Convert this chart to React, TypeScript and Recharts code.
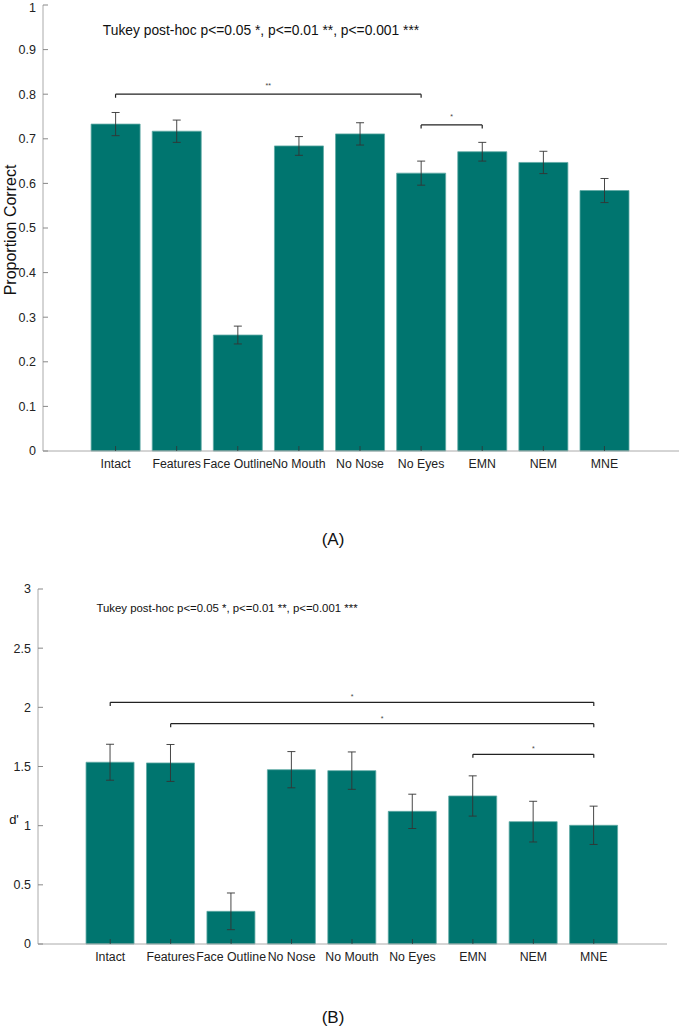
import React from "react"
import { BarChart, Bar, XAxis, YAxis, ErrorBar, ReferenceLine } from "recharts"

// Panel A: proportion correct
const topCategories = ["Intact", "Features", "Face Outline", "No Mouth", "No Nose", "No Eyes", "EMN", "NEM", "MNE"]
const topMeans = [0.733, 0.717, 0.26, 0.684, 0.711, 0.623, 0.671, 0.647, 0.584]
const topErrors = [0.026, 0.025, 0.02, 0.021, 0.025, 0.027, 0.021, 0.025, 0.027]
const topTicks = [0, 0.1, 0.2, 0.3, 0.4, 0.5, 0.6, 0.7, 0.8, 0.9, 1]
const topBrackets = [
  { from: "Intact", to: "No Eyes", y: 0.8, drop: 0.008, stars: "**" },
  { from: "No Eyes", to: "EMN", y: 0.731, drop: 0.008, stars: "*" },
]

// Panel B: d'
const bottomCategories = ["Intact", "Features", "Face Outline", "No Nose", "No Mouth", "No Eyes", "EMN", "NEM", "MNE"]
const bottomMeans = [1.536, 1.53, 0.276, 1.473, 1.465, 1.121, 1.251, 1.034, 1.003]
const bottomErrors = [0.152, 0.156, 0.155, 0.153, 0.158, 0.145, 0.17, 0.172, 0.162]
const bottomTicks = [0, 0.5, 1, 1.5, 2, 2.5, 3]
const bottomBrackets = [
  { from: "Intact", to: "MNE", y: 2.042, drop: 0.03, stars: "*" },
  { from: "Features", to: "MNE", y: 1.862, drop: 0.03, stars: "*" },
  { from: "EMN", to: "MNE", y: 1.603, drop: 0.03, stars: "*" },
]

const TEAL = "#00756f"
const FONT = "'Liberation Sans', Arial, Helvetica, sans-serif"

function XTick(props: any) {
  const { x, y, payload } = props
  return (
    <g>
      <line x1={x} x2={x} y1={y} y2={y - 5} stroke="#333" strokeWidth={0.8} />
      <text x={x} y={y + 17} textAnchor="middle" fontSize={12.3} fill="#222" fontFamily={FONT}>
        {payload.value}
      </text>
    </g>
  )
}

function brackets(list: typeof topBrackets, starOffset: number) {
  const out: React.ReactNode[] = []
  list.forEach((b, i) => {
    out.push(
      <ReferenceLine
        key={"h" + i}
        segment={[{ x: b.from, y: b.y }, { x: b.to, y: b.y }]}
        stroke="#222"
        strokeWidth={1.2}
        label={{ value: b.stars, position: "top", offset: starOffset, fontSize: 7, fill: "#444" }}
      />,
      <ReferenceLine
        key={"l" + i}
        segment={[{ x: b.from, y: b.y }, { x: b.from, y: b.y - b.drop }]}
        stroke="#222"
        strokeWidth={1.2}
      />,
      <ReferenceLine
        key={"r" + i}
        segment={[{ x: b.to, y: b.y }, { x: b.to, y: b.y - b.drop }]}
        stroke="#222"
        strokeWidth={1.2}
      />
    )
  })
  return out
}

export default function App() {
  const topData = topCategories.map((name, i) => ({ name, value: topMeans[i], err: topErrors[i] }))
  const bottomData = bottomCategories.map((name, i) => ({ name, value: bottomMeans[i], err: bottomErrors[i] }))

  return (
    <div style={{ position: "absolute", left: 0, top: 0, width: 680, height: 1027, background: "#fff", fontFamily: FONT }}>
      <div style={{ position: "absolute", left: 0, top: 0 }}>
        <BarChart width={680} height={500} data={topData} margin={{ top: 5, right: 1, bottom: 19, left: 0 }} barCategoryGap="10%">
          <XAxis
            dataKey="name"
            interval={0}
            height={30}
            padding={{ left: 42, right: 44 }}
            tickLine={false}
            tickSize={0}
            tickMargin={0}
            tick={<XTick />}
            axisLine={{ stroke: "#aaa" }}
          />
          <YAxis
            type="number"
            domain={[0, 1]}
            ticks={topTicks}
            width={43}
            tickSize={-5}
            tickMargin={12}
            tickLine={{ stroke: "#888" }}
            axisLine={{ stroke: "#aaa" }}
            tick={{ fontSize: 12.5, fill: "#222", fontFamily: FONT }}
          />
          <Bar dataKey="value" fill={TEAL} stroke="#5faaa5" strokeWidth={0.8} isAnimationActive={false}>
            <ErrorBar dataKey="err" width={4} stroke="#333" strokeWidth={0.9} direction="y" />
          </Bar>
          {brackets(topBrackets, 6)}
        </BarChart>
      </div>

      <div style={{ position: "absolute", left: 0, top: 560 }}>
        <BarChart width={680} height={450} data={bottomData} margin={{ top: 29, right: 13, bottom: 36, left: 0 }} barCategoryGap="10%">
          <XAxis
            dataKey="name"
            interval={0}
            height={30}
            padding={{ left: 42, right: 43 }}
            tickLine={false}
            tickSize={0}
            tickMargin={0}
            tick={<XTick />}
            axisLine={{ stroke: "#aaa" }}
          />
          <YAxis
            type="number"
            domain={[0, 3]}
            ticks={bottomTicks}
            width={38}
            tickSize={-5}
            tickMargin={12}
            tickLine={{ stroke: "#888" }}
            axisLine={{ stroke: "#aaa" }}
            tick={{ fontSize: 12.5, fill: "#222", fontFamily: FONT }}
          />
          <Bar dataKey="value" fill={TEAL} stroke="#5faaa5" strokeWidth={0.8} isAnimationActive={false}>
            <ErrorBar dataKey="err" width={4} stroke="#333" strokeWidth={0.9} direction="y" />
          </Bar>
          {brackets(bottomBrackets, 3)}
        </BarChart>
      </div>

      <svg width={680} height={1027} style={{ position: "absolute", left: 0, top: 0, pointerEvents: "none" }}>
        <text x={261} y={35} textAnchor="middle" fontSize={13.8} fill="#111" fontFamily={FONT}>
          Tukey post-hoc p&lt;=0.05 *, p&lt;=0.01 **, p&lt;=0.001 ***
        </text>
        <text x={227} y={612} textAnchor="middle" fontSize={11.4} fill="#111" fontFamily={FONT}>
          Tukey post-hoc p&lt;=0.05 *, p&lt;=0.01 **, p&lt;=0.001 ***
        </text>
        <text
          x={0}
          y={0}
          transform="translate(16,230) rotate(-90)"
          textAnchor="middle"
          fontSize={16}
          fill="#111"
          fontFamily={FONT}
        >
          Proportion Correct
        </text>
        <text x={14} y={824} textAnchor="middle" fontSize={13} fill="#111" fontFamily={FONT}>
          d'
        </text>
        <text x={333} y={545} textAnchor="middle" fontSize={17} fill="#111" fontFamily={FONT}>
          (A)
        </text>
        <text x={333} y={1023} textAnchor="middle" fontSize={17} fill="#111" fontFamily={FONT}>
          (B)
        </text>
      </svg>
    </div>
  )
}
